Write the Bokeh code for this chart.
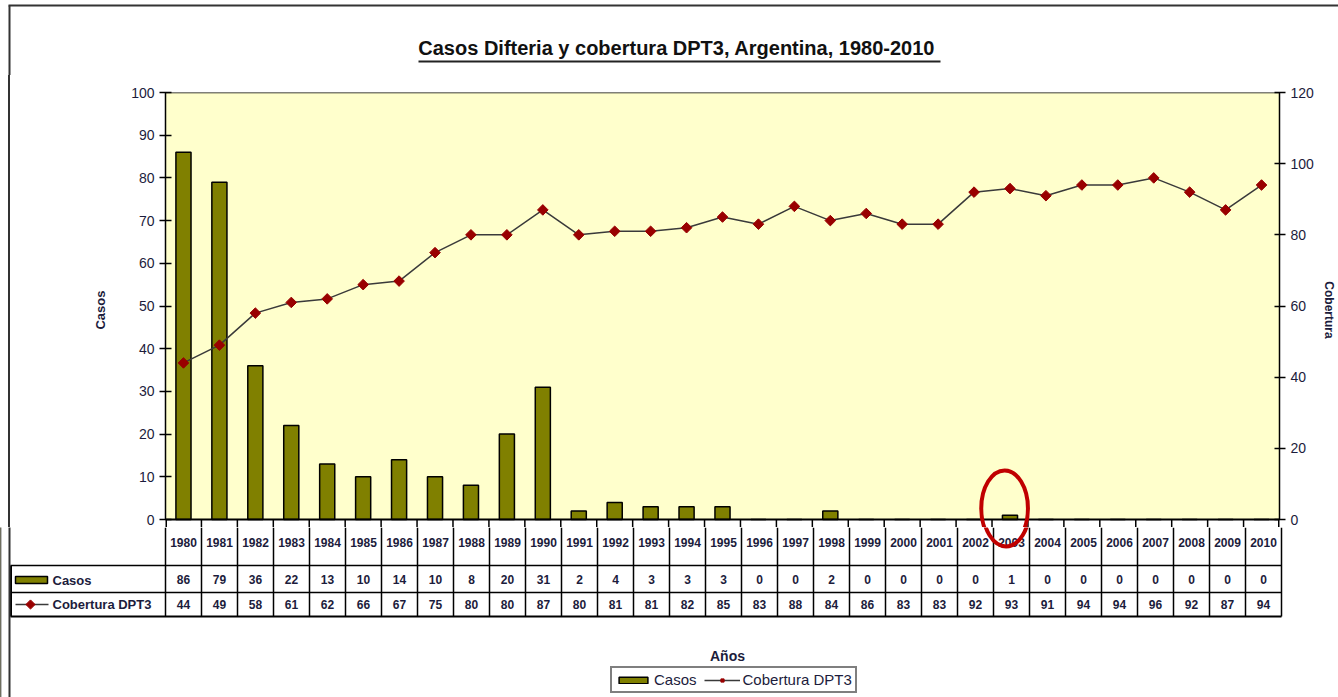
import math
from bokeh.plotting import figure
from bokeh.layouts import column
from bokeh.models import (Range1d, LinearAxis, FixedTicker, Legend, LegendItem,
                          ColumnDataSource)
from bokeh.embed import file_html
from bokeh.resources import INLINE
from bokeh.core.properties import value

# ---------------- data ----------------
years = [str(y) for y in range(1980, 2011)]
casos = [86, 79, 36, 22, 13, 10, 14, 10, 8, 20, 31, 2, 4, 3, 3, 3, 0, 0, 2, 0,
         0, 0, 0, 1, 0, 0, 0, 0, 0, 0, 0]
cobertura = [44, 49, 58, 61, 62, 66, 67, 75, 80, 80, 87, 80, 81, 81, 82, 85, 83, 88,
             84, 86, 83, 83, 92, 93, 91, 94, 94, 96, 92, 87, 94]
left_ticks = list(range(0, 101, 10))
right_ticks = list(range(0, 121, 20))
title_text = "Casos Difteria  y cobertura DPT3, Argentina, 1980-2010"
series_names = ["Casos", "Cobertura DPT3"]
right_title = "Cobertura"
x_title = "Años"
highlight_year = "2003"

# ---------------- layout constants ----------------
FONT = "Liberation Sans"
TXT = "#1c1c3c"
OLIVE = "#808000"
DRED = "#990000"
YEL = "#FFFFCC"
BORDER = "#333333"
LINEC = "#3a3a3a"
W, H = 1338, 697
S1, S2 = 75, 527       # page y where the title strip and the chart end

# page pixel -> data helpers (x: 36 px per year column, first column starts at x=165)
X0, PXU = 165.0, 36.0
Y0, PYU = 519.0, 4.27


def dx(px):
    return (px - X0) / PXU - 0.5


def dy(py):
    return (Y0 - py) / PYU


n = len(years)
idx = list(range(n))
src = ColumnDataSource(dict(x=idx, casos=casos, cob=cobertura, year=years,
                            cs=[str(v) for v in casos], cv=[str(v) for v in cobertura]))


def strip(height, ytop, ybot):
    f = figure(width=W, height=height, output_backend="svg", toolbar_location=None,
               x_range=Range1d(dx(0), dx(W)), y_range=Range1d(dy(ybot), dy(ytop)),
               x_axis_location=None, y_axis_location=None,
               min_border_left=0, min_border_right=0, min_border_top=0,
               min_border_bottom=0, background_fill_color="white",
               border_fill_color="white")
    f.outline_line_color = None
    f.xgrid.visible = False
    f.ygrid.visible = False
    f.frame_align = False
    return f


# =============== title strip ===============
t = strip(S1, 0, S1)
t.text(x=[dx(679)], y=[dy(47)], text=[title_text], text_align="center",
       text_baseline="middle", text_font=value(FONT), text_font_size="20px",
       text_font_style="bold", text_color="#111111")
t.segment(x0=[dx(418)], x1=[dx(940)], y0=[dy(61)], y1=[dy(61)],
          line_color="#222222", line_width=2)
t.segment(x0=[dx(8), dx(9)], x1=[dx(W + 20), dx(9)], y0=[dy(5), dy(5)], y1=[dy(5), dy(S1 + 5)],
          line_color=BORDER, line_width=2)

# =============== chart ===============
css_border = {
    "background-image": f"linear-gradient({BORDER}, {BORDER})",
    "background-size": "2px 100%",
    "background-position": "8px 0px",
    "background-repeat": "no-repeat",
}
p = figure(width=W, height=S2 - S1, output_backend="svg", toolbar_location=None,
           x_range=Range1d(-0.5, n - 0.5), y_range=Range1d(dy(S2), 100),
           x_axis_location=None, y_axis_location="left",
           min_border_left=165, min_border_right=W - 1281, min_border_top=92 - S1,
           min_border_bottom=0, background_fill_alpha=0, border_fill_alpha=0,
           styles=css_border)
p.frame_align = False
p.outline_line_color = None
p.xgrid.visible = False
p.ygrid.visible = False
p.extra_y_ranges = {"cov": Range1d(dy(S2) * 1.2, 120)}

ax = p.yaxis[0]
ax.ticker = FixedTicker(ticks=left_ticks)
ax.bounds = (0, 100)
ax.major_tick_in = 6
ax.major_tick_out = 6
ax.minor_tick_line_color = None
ax.axis_line_width = 1.5
ax.major_tick_line_width = 1.5
ax.major_label_text_font = FONT
ax.major_label_text_font_size = "14px"
ax.major_label_text_color = TXT
ax.major_label_standoff = 5
ax.axis_label = series_names[0]
ax.axis_label_text_font = FONT
ax.axis_label_text_font_size = "13px"
ax.axis_label_text_font_style = "bold"
ax.axis_label_text_color = TXT
ax.axis_label_standoff = 20

rax = LinearAxis(y_range_name="cov", ticker=FixedTicker(ticks=right_ticks), bounds=(0, 120))
rax.major_tick_in = 5
rax.major_tick_out = 6
rax.minor_tick_line_color = None
rax.axis_line_width = 1.5
rax.major_tick_line_width = 1.5
rax.major_label_text_font = FONT
rax.major_label_text_font_size = "14px"
rax.major_label_text_color = TXT
rax.major_label_standoff = 5
rax.axis_label = right_title
rax.axis_label_text_font = FONT
rax.axis_label_text_font_size = "12px"
rax.axis_label_text_font_style = "bold"
rax.axis_label_text_color = TXT
rax.axis_label_standoff = 5
p.add_layout(rax, "right")

p.quad(left=[-0.5], right=[n - 0.5], bottom=[0], top=[100], fill_color=YEL,
       line_color=None, level="underlay")
p.segment(x0=[-0.5], x1=[n - 0.5], y0=[100], y1=[100], line_color="black", line_width=1.5)

bars = p.vbar(x="x", top="casos", bottom=0, width=0.42, source=src,
              fill_color=OLIVE, line_color="black", line_width=1.5)
p.line(x="x", y="cob", source=src, y_range_name="cov", line_color=LINEC, line_width=1.5)
p.scatter(x="x", y="cob", source=src, y_range_name="cov", marker="square",
          angle=math.pi / 4, size=7.5, fill_color=DRED, line_color=DRED)

# top of the data table (x axis line and column lines)
p.segment(x0=[-0.5], x1=[n - 0.5], y0=[0], y1=[0], line_color="black", line_width=2)
vx = [i - 0.5 for i in range(n + 1)]
p.segment(x0=vx, x1=vx, y0=[0] * len(vx), y1=[dy(S2)] * len(vx),
          line_color="black", line_width=[3] + [1.5] * (n - 1) + [3])

# highlight ellipse around 2003 (drawn in both panels it crosses)
hx = years.index(highlight_year) - 0.15
ell = dict(x=[hx], y=[2.6], width=1.3, height=17.8, fill_color=None,
           line_color="#C00000", line_width=4)
p.ellipse(**ell)

# =============== data table rows, x title, legend ===============
q = strip(H - S2, S2, H)
ROW1, ROW2, ROW3 = dy(565), dy(592), dy(616)
q.segment(x0=vx, x1=vx, y0=[dy(S2)] * len(vx), y1=[ROW3] * len(vx),
          line_color="black", line_width=1.5)
q.segment(x0=[dx(10)] * 3, x1=[n - 0.5] * 3, y0=[ROW1, ROW2, ROW3], y1=[ROW1, ROW2, ROW3],
          line_color="black", line_width=[1.5, 1.5, 2])
q.segment(x0=[dx(10.5)], x1=[dx(10.5)], y0=[ROW1], y1=[ROW3], line_color="black", line_width=2)
q.segment(x0=[dx(9)], x1=[dx(9)], y0=[dy(S2 - 5)], y1=[dy(H)], line_color=BORDER, line_width=2)

tcommon = dict(text_align="center", text_baseline="middle", text_font=value(FONT),
               text_font_size="12px", text_font_style="bold", text_color=TXT)
q.text(x="x", y=dy(542), text="year", source=src, **tcommon)
q.text(x="x", y=(ROW1 + ROW2) / 2, text="cs", source=src, **tcommon)
q.text(x="x", y=(ROW2 + ROW3) / 2, text="cv", source=src, **tcommon)
q.ellipse(**ell)

# row headers with their keys
q.quad(left=[dx(15)], right=[dx(47)], bottom=[dy(583)], top=[dy(576)],
       fill_color=OLIVE, line_color="black", line_width=1.5)
q.segment(x0=[dx(15)], x1=[dx(48)], y0=[dy(604)], y1=[dy(604)],
          line_color=LINEC, line_width=1.5)
q.scatter(x=[dx(30)], y=[dy(604)], marker="square", angle=math.pi / 4, size=6.5,
          fill_color=DRED, line_color=DRED)
q.text(x=[dx(52), dx(52)], y=[dy(579.5), dy(604)], text=series_names, text_align="left",
       text_baseline="middle", text_font=value(FONT), text_font_size="13px",
       text_font_style="bold", text_color=TXT)

# x title
q.text(x=[dx(727)], y=[dy(655)], text=[x_title], text_align="center",
       text_baseline="middle", text_font=value(FONT), text_font_size="14px",
       text_font_style="bold", text_color=TXT)

# legend: key renderers styled like the chart's series (their single point lies off-range)
off = [-1000]
kb = q.vbar(x=off, top=off, width=0.42, fill_color=OLIVE, line_color="black", line_width=1.5)
kl = q.line(x=off, y=off, line_color=LINEC, line_width=1.5)
km = q.scatter(x=off, y=off, marker="square", angle=math.pi / 4, size=7.5,
               fill_color=DRED, line_color=DRED)
legend = Legend(items=[LegendItem(label=series_names[0], renderers=[kb]),
                       LegendItem(label=series_names[1], renderers=[kl, km])],
                orientation="horizontal", location=(610, 4),
                border_line_color="black", border_line_width=2,
                background_fill_color="white", background_fill_alpha=1,
                label_text_font=FONT, label_text_font_size="15px", label_text_color=TXT,
                glyph_width=36, glyph_height=8, spacing=7, padding=3,
                label_standoff=3, margin=0)
q.add_layout(legend)

layout = column(t, p, q, spacing=0)
open("out.html", "w").write(file_html(layout, INLINE))
